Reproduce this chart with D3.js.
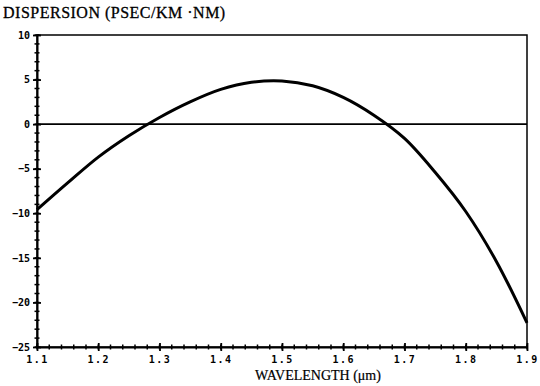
<!DOCTYPE html>
<html><head><meta charset="utf-8">
<script src="https://cdn.jsdelivr.net/npm/d3@7"></script>
<style>body{margin:0;background:#fff}svg{display:block}</style>
</head><body>
<script>
const wavelength = [1.10,1.15,1.20,1.25,1.30,1.35,1.40,1.45,1.50,1.55,1.60,1.65,1.70,1.75,1.80,1.85,1.90];
const dispersion = [-9.6,-6.6,-3.7,-1.3,0.75,2.5,3.9,4.7,4.85,4.3,3.0,1.0,-1.6,-5.4,-9.8,-15.4,-22.3];
const xTicks = [1.1,1.2,1.3,1.4,1.5,1.6,1.7,1.8,1.9];
const yTicks = [10,5,0,-5,-10,-15,-20,-25];
const yLabel = "DISPERSION (PSEC/KM ·NM)";
const xLabel = "WAVELENGTH (μm)";

const W=540,H=386, L=37, R=527, T=35, B=347;
const svg=d3.select("body").append("svg").attr("width",W).attr("height",H);
const x=d3.scaleLinear().domain([1.1,1.9]).range([L,R]);
const y=d3.scaleLinear().domain([-25,10]).range([B,T]);

// frame
svg.append("rect").attr("x",L).attr("y",T).attr("width",R-L).attr("height",B-T)
  .attr("fill","none").attr("stroke","#000").attr("stroke-width",1.5);
// zero line
svg.append("line").attr("x1",L).attr("x2",R).attr("y1",y(0)).attr("y2",y(0))
  .attr("stroke","#000").attr("stroke-width",1.6);

// minor ticks
const tickFont = "'DejaVu Sans Mono', monospace";
const xMinor=d3.range(0,41).map(i=>1.1+i*0.02);
svg.append("g").selectAll("line").data(xMinor).join("line")
  .attr("x1",d=>x(d)).attr("x2",d=>x(d)).attr("y1",B-2.5).attr("y2",B+2.5)
  .attr("stroke","#000").attr("stroke-width",1.5);
const yMinor=d3.range(-25,11);
svg.append("g").selectAll("line").data(yMinor).join("line")
  .attr("x1",L-2.5).attr("x2",L+2.5).attr("y1",d=>y(d)).attr("y2",d=>y(d))
  .attr("stroke","#000").attr("stroke-width",1.5);

// axes with major ticks
const xAxis=d3.axisBottom(x).tickValues(xTicks).tickSize(4).tickSizeOuter(0)
  .tickFormat(d=>d3.format(".1f")(d));
const gx=svg.append("g").attr("transform",`translate(0,${B})`).call(xAxis);
gx.select(".domain").attr("stroke-width",1.8);
gx.selectAll(".tick line").attr("y1",-4).attr("stroke-width",1.8);
gx.selectAll(".tick text").attr("y",9).attr("font-family",tickFont).attr("font-size",10)
  .attr("letter-spacing","1.5px").attr("font-weight","bold").attr("fill","#000");

const yAxis=d3.axisLeft(y).tickValues(yTicks).tickSize(4).tickSizeOuter(0);
const gy=svg.append("g").attr("transform",`translate(${L},0)`).call(yAxis);
gy.select(".domain").attr("stroke-width",2);
gy.selectAll(".tick line").attr("x1",4).attr("stroke-width",1.8);
gy.selectAll(".tick text").attr("x",-7).attr("font-family",tickFont).attr("font-size",10)
  .attr("font-weight","bold").attr("fill","#000");

// curve
const pts=wavelength.map((w,i)=>[w,dispersion[i]]);
svg.append("path").datum(pts)
  .attr("d",d3.line().x(d=>x(d[0])).y(d=>y(d[1])).curve(d3.curveCatmullRom.alpha(0.5)))
  .attr("fill","none").attr("stroke","#000").attr("stroke-width",3);

// labels
svg.append("text").attr("x",3).attr("y",18).text(yLabel)
  .attr("font-family","'Liberation Serif', serif").attr("font-size",16)
  .attr("letter-spacing","0.5px").attr("stroke","#000").attr("stroke-width",0.3).attr("fill","#000");
svg.append("text").attr("x",318).attr("y",380).attr("text-anchor","middle").text(xLabel)
  .attr("font-family","'Liberation Serif', serif").attr("font-size",14)
  .attr("stroke","#000").attr("stroke-width",0.2).attr("fill","#000");
</script>
</body></html>
